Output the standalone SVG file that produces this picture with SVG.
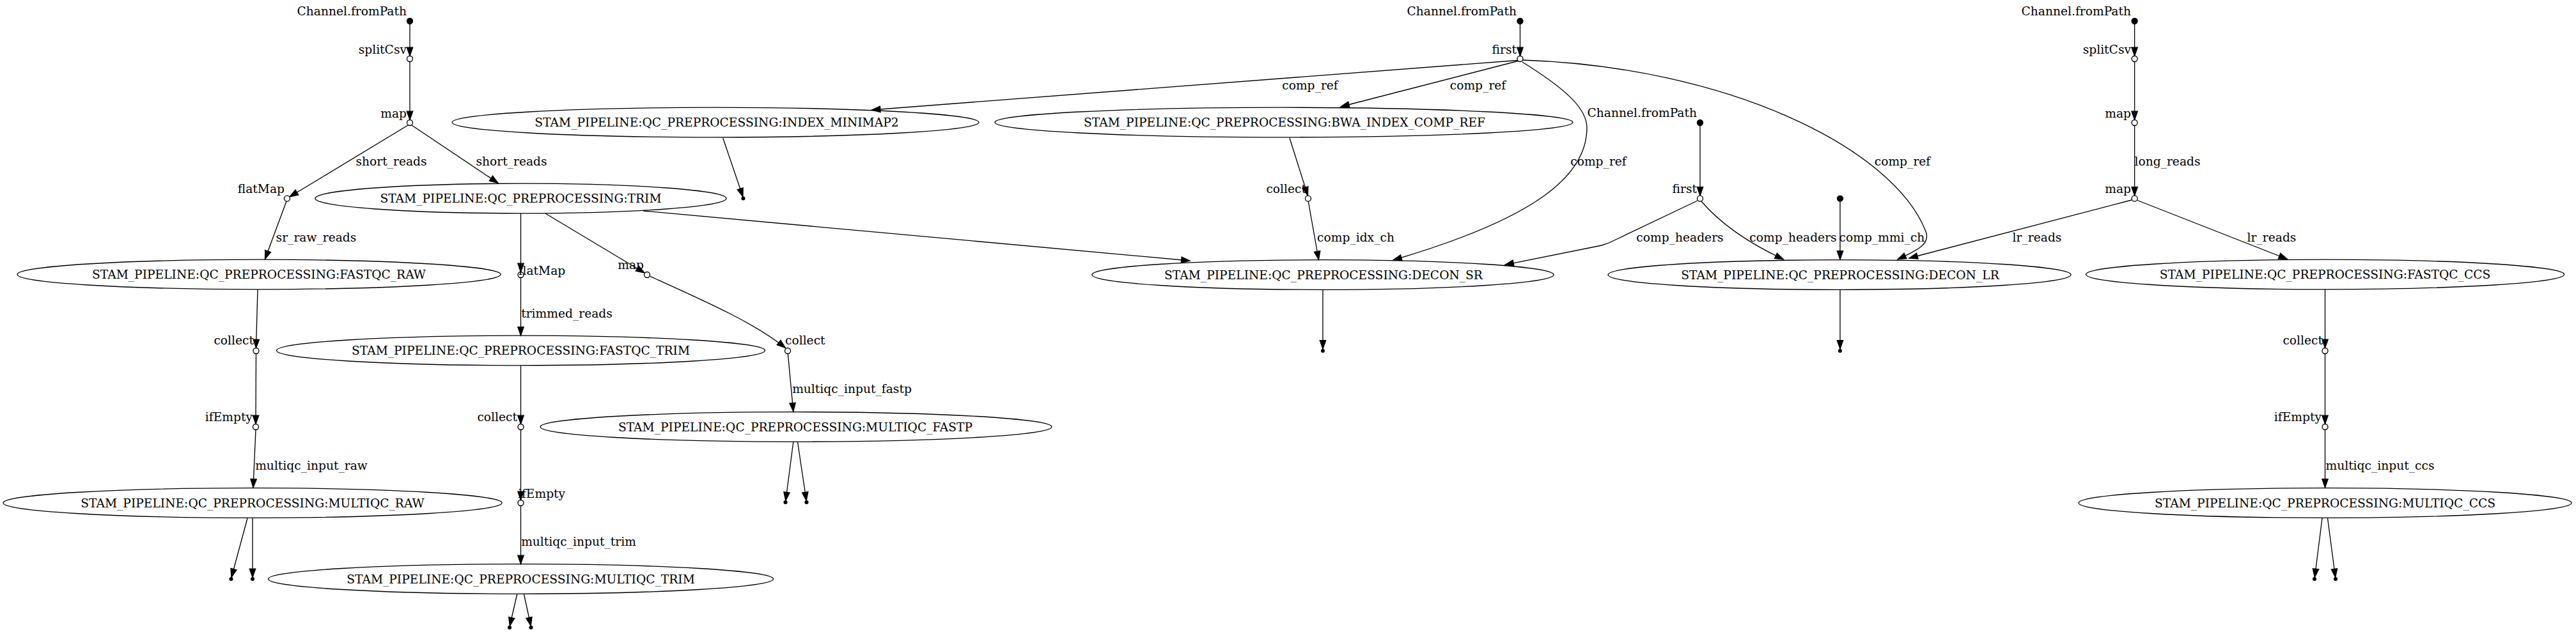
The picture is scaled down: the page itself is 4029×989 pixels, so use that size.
<svg xmlns="http://www.w3.org/2000/svg" width="4029" height="989" viewBox="0 0 4029 989">
<style>
text{font-family:"DejaVu Serif","Liberation Serif",serif;font-size:18.67px;fill:#000}
.c{text-anchor:middle}
.e{text-anchor:end}
.proc{fill:none;stroke:#000;stroke-width:1.33}
.op{fill:#fff;stroke:#000;stroke-width:1.33}
.src{fill:#000;stroke:#000;stroke-width:1.33}
.edge{fill:none;stroke:#000;stroke-width:1.33;marker-end:url(#ah)}
</style>
<defs>
<marker id="ah" markerUnits="userSpaceOnUse" markerWidth="20" markerHeight="14" viewBox="-2 -7 20 14" refX="13.3" refY="0" orient="auto" overflow="visible">
<path d="M0,-4.67 L13.3,0 L0,4.67 Z" fill="#000" stroke="#000" stroke-width="1.33"/>
</marker>
</defs>
<rect x="0" y="0" width="4029" height="989" fill="#fff"/>
<g id="connectors">
<!-- left cluster -->
<path class="edge" d="M641,38 L641,87.5"/>
<path class="edge" d="M641,96.5 L641,187.5"/>
<path class="edge" d="M638,196 L453,308"/>
<path class="edge" d="M644,196 L779,286.5"/>
<path class="edge" d="M448,315 L414.5,405.5"/>
<path class="edge" d="M403,453 L400.5,544.5"/>
<path class="edge" d="M400.5,553.5 L400,663.5"/>
<path class="edge" d="M400,672.5 L396,763"/>
<path class="edge" d="M387,811 L362,903.5"/>
<path class="edge" d="M395,811 L395,903.5"/>
<path class="edge" d="M814.5,334 L814.5,425.5"/>
<path class="edge" d="M814.5,434.5 L814.5,525"/>
<path class="edge" d="M814.5,572 L814.5,663.5"/>
<path class="edge" d="M814.5,672.5 L814.5,782.5"/>
<path class="edge" d="M814.5,791.5 L814.5,882.5"/>
<path class="edge" d="M808.7,930 L797.3,979.5"/>
<path class="edge" d="M819.5,930 L830.3,979.5"/>
<path class="edge" d="M853,334 L1008,427"/>
<path class="edge" d="M1016,432 C1100,470 1180,505 1228.5,544.5"/>
<path class="edge" d="M1232.3,553.5 L1240.8,644"/>
<path class="edge" d="M1240.8,691.5 L1228.8,783.5"/>
<path class="edge" d="M1247.5,691.5 L1261.2,783.5"/>
<path class="edge" d="M1006,330 L1861,408"/>
<!-- middle -->
<path class="edge" d="M2377.5,38 L2377.5,87.5"/>
<path class="edge" d="M2373,94.5 L1363.5,172"/>
<path class="edge" d="M1130.7,216 L1162,308"/>
<path class="edge" d="M2374,95.5 L2097,167"/>
<path class="edge" d="M2017,216 L2045.5,306"/>
<path class="edge" d="M2046.3,315.5 L2062.5,406.5"/>
<path class="edge" d="M2381,97 C2450,140 2482,170 2482,200 C2482,280 2390,345 2179,407"/>
<path class="edge" d="M2382,94 C2700,105 2960,230 3012,362 C3020,382 2998,392 2968,406"/>
<path class="edge" d="M2659,197 L2659,306"/>
<path class="edge" d="M2655,314 L2525,376 Q2516,381 2505,384 L2354,414.3"/>
<path class="edge" d="M2661,315 C2695,355 2745,385 2789.5,406"/>
<path class="edge" d="M2878,315.5 L2878,406"/>
<path class="edge" d="M2069,453 L2069,546"/>
<path class="edge" d="M2878,453 L2878,546"/>
<!-- right cluster -->
<path class="edge" d="M3338.6,38 L3338.6,87.5"/>
<path class="edge" d="M3338.6,96.5 L3338.6,187.5"/>
<path class="edge" d="M3338.6,196.5 L3338.6,306"/>
<path class="edge" d="M3334,313 L2986,404"/>
<path class="edge" d="M3343,313.5 L3577.4,405.5"/>
<path class="edge" d="M3636.5,453 L3636.5,544.5"/>
<path class="edge" d="M3636.5,553.5 L3636.5,663.5"/>
<path class="edge" d="M3636.5,672.5 L3636.5,763"/>
<path class="edge" d="M3632,811 L3620.3,903.5"/>
<path class="edge" d="M3640.5,811 L3652.7,903.5"/>
<!-- edge labels -->
<text class="c" x="612" y="258.5">short_reads</text>
<text class="c" x="800" y="258.5">short_reads</text>
<text class="c" x="494.5" y="377.5">sr_raw_reads</text>
<text class="c" x="886.5" y="496.5">trimmed_reads</text>
<text class="c" x="487" y="734.5">multiqc_input_raw</text>
<text class="c" x="905" y="853.5">multiqc_input_trim</text>
<text class="c" x="1332.5" y="615">multiqc_input_fastp</text>
<text class="c" x="2049" y="139.5">comp_ref</text>
<text class="c" x="2311.5" y="139.5">comp_ref</text>
<text class="c" x="2500" y="258.5">comp_ref</text>
<text class="c" x="2975.5" y="258.5">comp_ref</text>
<text class="c" x="2120.5" y="377.5">comp_idx_ch</text>
<text class="c" x="2627.5" y="377.5">comp_headers</text>
<text class="c" x="2804.5" y="377.5">comp_headers</text>
<text class="c" x="2943.5" y="377.5">comp_mmi_ch</text>
<text class="c" x="3390" y="258.5">long_reads</text>
<text class="c" x="3186" y="377.5">lr_reads</text>
<text class="c" x="3553" y="377.5">lr_reads</text>
<text class="c" x="3722.5" y="734.5">multiqc_input_ccs</text>
</g>
<!-- left cluster nodes -->
<g id="src1"><circle class="src" cx="641" cy="33" r="4.5"/><text class="e" x="636" y="23.5">Channel.fromPath</text></g>
<g id="splitCsv1"><circle class="op" cx="641" cy="92" r="4.5"/><text class="e" x="636" y="83.5">splitCsv</text></g>
<g id="map1"><circle class="op" cx="641" cy="192" r="4.5"/><text class="e" x="636" y="183.5">map</text></g>
<g id="flatMap1"><circle class="op" cx="449" cy="310.7" r="4.5"/><text class="e" x="445" y="301.5">flatMap</text></g>
<g id="trim"><ellipse class="proc" cx="814.5" cy="310.5" rx="321.5" ry="23.3"/><text class="c" x="814.5" y="317">STAM_PIPELINE:QC_PREPROCESSING:TRIM</text></g>
<g id="fastqc_raw"><ellipse class="proc" cx="405" cy="429.5" rx="378" ry="23.3"/><text class="c" x="405" y="436">STAM_PIPELINE:QC_PREPROCESSING:FASTQC_RAW</text></g>
<g id="collect1"><circle class="op" cx="400.5" cy="549" r="4.5"/><text class="e" x="397" y="538.5">collect</text></g>
<g id="ifEmpty1"><circle class="op" cx="400" cy="668" r="4.5"/><text class="e" x="395" y="658.5">ifEmpty</text></g>
<g id="multiqc_raw"><ellipse class="proc" cx="395" cy="787" rx="390" ry="23.3"/><text class="c" x="395" y="793.5">STAM_PIPELINE:QC_PREPROCESSING:MULTIQC_RAW</text></g>
<g id="end_raw1"><circle class="src" cx="361.5" cy="906" r="2.4"/></g>
<g id="end_raw2"><circle class="src" cx="395" cy="906" r="2.4"/></g>
<g id="flatMap2"><circle class="op" cx="814.5" cy="430" r="4.5"/><text x="811" y="429.5">flatMap</text></g>
<g id="fastqc_trim"><ellipse class="proc" cx="814.5" cy="548.5" rx="382" ry="23.3"/><text class="c" x="814.5" y="555">STAM_PIPELINE:QC_PREPROCESSING:FASTQC_TRIM</text></g>
<g id="collect2"><circle class="op" cx="814.5" cy="668" r="4.5"/><text class="e" x="809" y="658.5">collect</text></g>
<g id="ifEmpty2"><circle class="op" cx="814.5" cy="787" r="4.5"/><text x="810" y="778.5">ifEmpty</text></g>
<g id="multiqc_trim"><ellipse class="proc" cx="814.5" cy="906" rx="395" ry="23.3"/><text class="c" x="814.5" y="912.5">STAM_PIPELINE:QC_PREPROCESSING:MULTIQC_TRIM</text></g>
<g id="end_trim1"><circle class="src" cx="797" cy="982" r="2.4"/></g>
<g id="end_trim2"><circle class="src" cx="830.5" cy="982" r="2.4"/></g>
<g id="map3"><circle class="op" cx="1012" cy="430" r="4.5"/><text class="e" x="1007" y="420.5">map</text></g>
<g id="collect3"><circle class="op" cx="1232" cy="549" r="4.5"/><text x="1228" y="539">collect</text></g>
<g id="multiqc_fastp"><ellipse class="proc" cx="1245" cy="668" rx="400" ry="23.3"/><text class="c" x="1244" y="674.5">STAM_PIPELINE:QC_PREPROCESSING:MULTIQC_FASTP</text></g>
<g id="end_fastp1"><circle class="src" cx="1228.5" cy="786" r="2.4"/></g>
<g id="end_fastp2"><circle class="src" cx="1261.5" cy="786" r="2.4"/></g>
<!-- middle nodes -->
<g id="index_minimap2"><ellipse class="proc" cx="1119" cy="191.5" rx="412" ry="23.3"/><text class="c" x="1121" y="198">STAM_PIPELINE:QC_PREPROCESSING:INDEX_MINIMAP2</text></g>
<g id="end_mm2"><circle class="src" cx="1162.5" cy="310.5" r="2.4"/></g>
<g id="src2"><circle class="src" cx="2377.5" cy="33" r="4.5"/><text class="e" x="2372" y="23.5">Channel.fromPath</text></g>
<g id="first1"><circle class="op" cx="2377.5" cy="92" r="4.5"/><text class="e" x="2372" y="83.5">first</text></g>
<g id="bwa_index"><ellipse class="proc" cx="2008" cy="191.5" rx="452" ry="23.3"/><text class="c" x="2009" y="198">STAM_PIPELINE:QC_PREPROCESSING:BWA_INDEX_COMP_REF</text></g>
<g id="collect4"><circle class="op" cx="2046" cy="310.7" r="4.5"/><text class="e" x="2043" y="301.5">collect</text></g>
<g id="decon_sr"><ellipse class="proc" cx="2069" cy="430" rx="361" ry="23.3"/><text class="c" x="2070" y="436.5">STAM_PIPELINE:QC_PREPROCESSING:DECON_SR</text></g>
<g id="end_sr"><circle class="src" cx="2069" cy="549" r="2.4"/></g>
<g id="src3"><circle class="src" cx="2659" cy="192" r="4.5"/><text class="e" x="2654" y="182.5">Channel.fromPath</text></g>
<g id="first2"><circle class="op" cx="2659" cy="310.7" r="4.5"/><text class="e" x="2654" y="301.5">first</text></g>
<g id="src_mmi"><circle class="src" cx="2878" cy="310.7" r="4.5"/></g>
<g id="decon_lr"><ellipse class="proc" cx="2877" cy="430" rx="362" ry="23.3"/><text class="c" x="2878" y="436.5">STAM_PIPELINE:QC_PREPROCESSING:DECON_LR</text></g>
<g id="end_lr"><circle class="src" cx="2878" cy="549" r="2.4"/></g>
<!-- right cluster nodes -->
<g id="src4"><circle class="src" cx="3338.6" cy="33" r="4.5"/><text class="e" x="3333" y="23.5">Channel.fromPath</text></g>
<g id="splitCsv2"><circle class="op" cx="3338.6" cy="92" r="4.5"/><text class="e" x="3333" y="83.5">splitCsv</text></g>
<g id="map4"><circle class="op" cx="3338.6" cy="192" r="4.5"/><text class="e" x="3333" y="183.5">map</text></g>
<g id="map5"><circle class="op" cx="3338.6" cy="310.7" r="4.5"/><text class="e" x="3333" y="301.5">map</text></g>
<g id="fastqc_ccs"><ellipse class="proc" cx="3636.5" cy="429.5" rx="374" ry="23.3"/><text class="c" x="3636.5" y="436">STAM_PIPELINE:QC_PREPROCESSING:FASTQC_CCS</text></g>
<g id="collect5"><circle class="op" cx="3636.5" cy="549" r="4.5"/><text class="e" x="3633" y="538.5">collect</text></g>
<g id="ifEmpty3"><circle class="op" cx="3636.5" cy="668" r="4.5"/><text class="e" x="3631" y="658.5">ifEmpty</text></g>
<g id="multiqc_ccs"><ellipse class="proc" cx="3636.5" cy="787" rx="385.5" ry="23.3"/><text class="c" x="3636.5" y="793.5">STAM_PIPELINE:QC_PREPROCESSING:MULTIQC_CCS</text></g>
<g id="end_ccs1"><circle class="src" cx="3620" cy="906" r="2.4"/></g>
<g id="end_ccs2"><circle class="src" cx="3653" cy="906" r="2.4"/></g>
</svg>
